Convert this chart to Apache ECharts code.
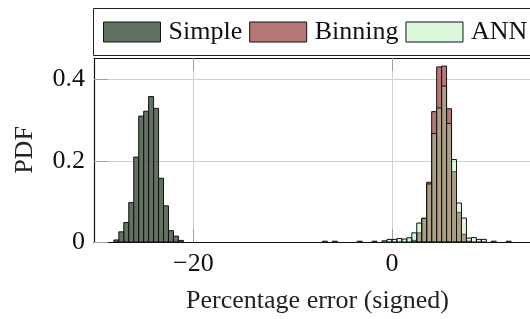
<!DOCTYPE html>
<html>
<head>
<meta charset="utf-8">
<script src="https://cdn.jsdelivr.net/npm/echarts@6/dist/echarts.min.js"></script>
<style>
  html, body { margin: 0; padding: 0; background: #fff; }
  #chart { width: 530px; height: 319px; }
</style>
</head>
<body>
<div id="chart"></div>
<script>
// histogram bins: left edge of each bin, width 0.5
const BIN_W = 0.5
const seriesNames = ['Simple', 'Binning', 'ANN']

const simpleEdges = [-28, -27.5, -27, -26.5, -26, -25.5, -25, -24.5, -24, -23.5, -23, -22.5, -22, -21.5]
const simpleDensity = [0.005, 0.025, 0.048, 0.097, 0.209, 0.310, 0.322, 0.358, 0.329, 0.157, 0.089, 0.028, 0.0145, 0.004]

const binningEdges = [2, 2.5, 3, 3.5, 4, 4.5, 5, 5.5, 6, 6.5, 7, 7.5]
const binningDensity = [0.004, 0.0225, 0.058, 0.147, 0.321, 0.431, 0.433, 0.328, 0.173, 0.073, 0.019, 0.002]

const annEdges = [-7, -6, -3.5, -2, -1, -0.5, 0, 0.5, 1, 1.5, 2, 2.5, 3, 3.5, 4, 4.5, 5, 5.5, 6, 6.5, 7, 7.5, 8, 8.5, 9, 10, 11.5]
const annDensity = [0.002, 0.002, 0.002, 0.002, 0.003, 0.0064, 0.0064, 0.0088, 0.0072, 0.0104, 0.0225, 0.0466, 0.0586, 0.143, 0.267, 0.330, 0.384, 0.292, 0.203, 0.096, 0.059, 0.0096, 0.011, 0.0064, 0.0064, 0.002, 0.002]

const xTicks = [-20, 0]
const yTicks = [0, 0.2, 0.4]

const FONT = '"Liberation Serif", "DejaVu Serif", serif'
const FS = 26
const fills = ['rgba(70,88,70,0.85)', '#b87777', 'rgba(155,235,155,0.35)']

function histSeries(name, edges, dens, fill) {
  return {
    name: name,
    type: 'custom',
    itemStyle: { color: fill, borderColor: '#111', borderWidth: 1 },
    encode: { x: [0, 1], y: 2 },
    data: edges.map((e, i) => [e, e + BIN_W, dens[i]]),
    renderItem: function(params, api) {
      const p0 = api.coord([api.value(0), api.value(2)])
      const p1 = api.coord([api.value(1), 0])
      return {
        type: 'rect',
        shape: { x: p0[0], y: p0[1], width: p1[0] - p0[0], height: p1[1] - p0[1] },
        style: { fill: fill, stroke: '#111', lineWidth: 1 }
      }
    }
  }
}

const chart = echarts.init(document.getElementById('chart'))
const option = {
  backgroundColor: '#fff',
  animation: false,
  textStyle: { fontFamily: FONT },
  // legend frame, it runs off the right edge like the plot does
  graphic: [{
    type: 'rect',
    z: 1,
    shape: { x: 93.5, y: 8.5, width: 460, height: 47 },
    style: { fill: '#fff', stroke: '#222', lineWidth: 1 }
  }],
  // plot runs past the right edge of the picture, so the x range stops at 13.9
  grid: { left: 94, top: 58, right: 0, bottom: 73 },
  legend: {
    left: 103,
    top: 19,
    width: 460,
    padding: 0,
    itemWidth: 57,
    itemHeight: 20,
    itemGap: 7,
    icon: 'rect',
    textStyle: { fontFamily: FONT, fontSize: FS, color: '#111', padding: [0, 0, 0, 3] },
    data: seriesNames.map((n, i) => ({
      name: n,
      itemStyle: { color: fills[i], borderColor: '#111', borderWidth: 1 }
    }))
  },
  xAxis: [
    {
      type: 'value',
      min: -30,
      max: 13.9,
      name: 'Percentage error (signed)',
      nameLocation: 'middle',
      nameGap: 46,
      nameTextStyle: { fontFamily: FONT, fontSize: FS, color: '#222', padding: [0, 0, 0, 11] },
      axisLine: { show: true, onZero: false, lineStyle: { color: '#111', width: 1.2 } },
      axisTick: { show: true, inside: true, length: 13, customValues: xTicks, lineStyle: { color: '#a0a0a0' } },
      axisLabel: {
        customValues: xTicks,
        margin: 9,
        fontFamily: FONT,
        fontSize: FS,
        color: '#111',
        formatter: v => (v < 0 ? '\u2212' + Math.abs(v) : String(v))
      },
      splitLine: { show: true, lineStyle: { color: '#d0d0d0', width: 1 } }
    },
    {
      type: 'value',
      position: 'top',
      min: -30,
      max: 13.9,
      axisLine: { show: true, onZero: false, lineStyle: { color: '#111', width: 1.2 } },
      axisTick: { show: true, inside: true, length: 13, customValues: xTicks, lineStyle: { color: '#a0a0a0' } },
      axisLabel: { show: false },
      splitLine: { show: false }
    }
  ],
  yAxis: {
    type: 'value',
    min: 0,
    max: 0.453,
    name: 'PDF',
    nameLocation: 'middle',
    nameGap: 56,
    nameTextStyle: { fontFamily: FONT, fontSize: FS, color: '#222' },
    axisLine: { show: true, onZero: false, lineStyle: { color: '#111', width: 1.2 } },
    axisTick: { show: true, inside: true, length: 14, customValues: yTicks, lineStyle: { color: '#a0a0a0' } },
    axisLabel: { customValues: yTicks, margin: 9, fontFamily: FONT, fontSize: FS, color: '#111' },
    splitLine: { show: true, lineStyle: { color: '#d0d0d0', width: 1 } }
  },
  series: [
    histSeries('Simple', simpleEdges, simpleDensity, fills[0]),
    histSeries('Binning', binningEdges, binningDensity, fills[1]),
    histSeries('ANN', annEdges, annDensity, fills[2])
  ]
}
chart.setOption(option)
</script>
</body>
</html>
